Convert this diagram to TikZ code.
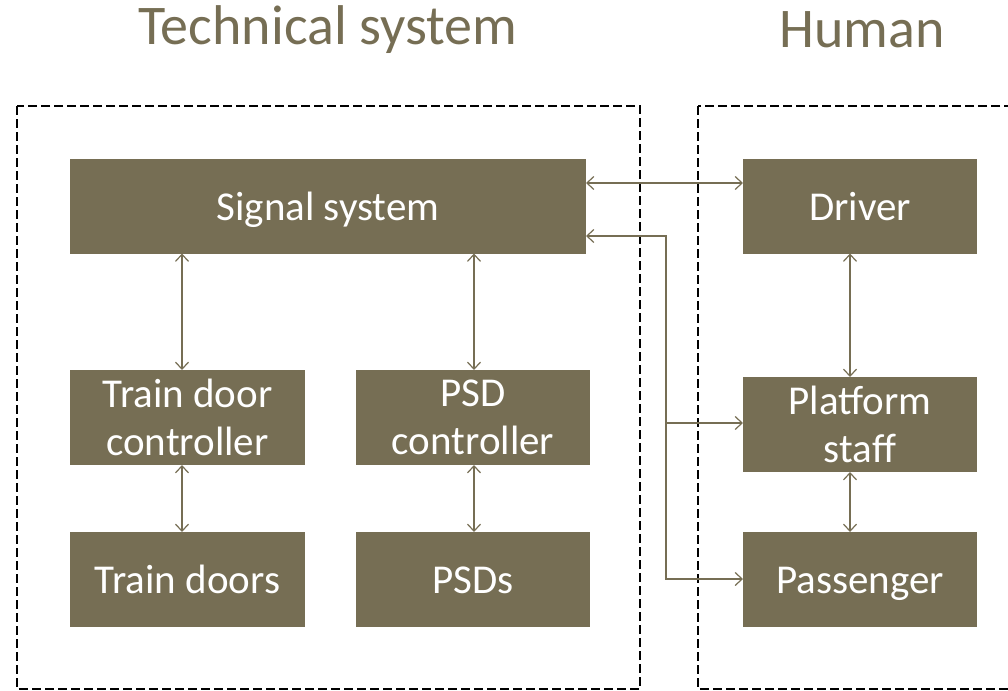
\documentclass[tikz,border=0pt]{standalone}
\usepackage{fontspec}
\setmainfont{Carlito}
\usetikzlibrary{arrows.meta}
\definecolor{olive}{RGB}{118,110,84}
\begin{document}
\begin{tikzpicture}[x=1pt,y=-1pt,
  blk/.style={fill=olive,draw=none,text=white,inner sep=0pt,outer sep=0pt,align=center,
    font=\fontsize{41}{48}\selectfont},
  one/.style={text height=34pt,text depth=6pt},
  conn/.style={draw=olive,line width=1.2pt,arrows={Straight Barb[length=7pt,width=13pt]-Straight Barb[length=7pt,width=13pt]}},
  conr/.style={draw=olive,line width=1.2pt,-{Straight Barb[length=7pt,width=13pt]}},
  grp/.style={draw=black,line width=1.5pt,dash pattern=on 9pt off 4pt},
  ttl/.style={text=olive,font=\fontsize{56}{64}\selectfont,inner sep=0pt}]
\useasboundingbox (0,0) rectangle (1008,690);
\clip (0,0) rectangle (1008,690);
\draw[grp] (17,106) rectangle (640,689);
\draw[grp] (698,106) rectangle (1020,689);
\node[ttl] (t1) at (328,30) {Technical system};
\node[ttl] (t2) at (862,30) {Human};
\node[blk,one,minimum width=516pt,minimum height=95pt] (sig) at (328,206) {Signal system};
\node[blk,one,minimum width=234pt,minimum height=95pt] (drv) at (860,206) {Driver};
\node[blk,minimum width=235pt,minimum height=95pt] (tdc) at (187.5,417.5) {Train door\\controller};
\node[blk,minimum width=234pt,minimum height=95pt] (psdc) at (473,417.5) {PSD\\controller};
\node[blk,one,minimum width=235pt,minimum height=95pt] (td) at (187.5,579.5) {Train doors};
\node[blk,one,minimum width=234pt,minimum height=95pt] (psd) at (473,579.5) {PSDs};
\node[blk,minimum width=234pt,minimum height=95pt] (stf) at (860,424.5) {Platform\\staff};
\node[blk,one,minimum width=234pt,minimum height=95pt] (pas) at (860,579.5) {Passenger};
\coordinate (c182) at (182,0);
\coordinate (c474) at (474,0);
\coordinate (c850) at (850,0);
\draw[conn] (sig.south -| c182) -- (tdc.north -| c182);
\draw[conn] (sig.south -| c474) -- (psdc.north -| c474);
\draw[conn] (tdc.south -| c182) -- (td.north -| c182);
\draw[conn] (psdc.south -| c474) -- (psd.north -| c474);
\draw[conn] (drv.south -| c850) -- (stf.north -| c850);
\draw[conn] (stf.south -| c850) -- (pas.north -| c850);
\coordinate (y183) at (0,183);
\draw[conn] (sig.east |- y183) -- (drv.west |- y183);
\coordinate (jt) at (666,236);
\coordinate (jm) at (666,423);
\coordinate (jb) at (666,579);
\draw[conn] (sig.east |- jt) -- (jt) -- (jb) -- (pas.west |- jb);
\draw[conr] (jm) -- (stf.west |- jm);
\end{tikzpicture}
\end{document}
